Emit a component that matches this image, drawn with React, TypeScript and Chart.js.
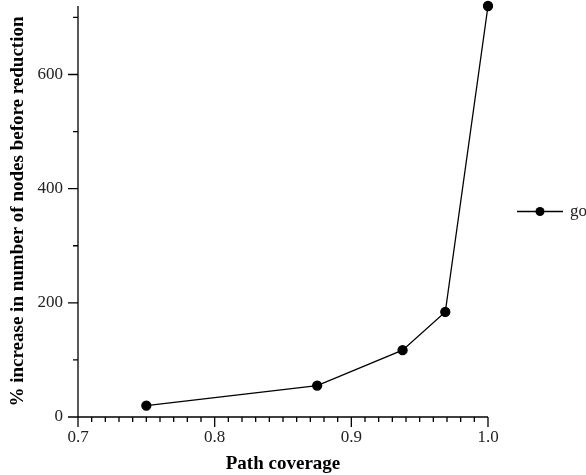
import { useEffect, useRef } from "react";
import { Chart, registerables } from "chart.js";

Chart.register(...registerables);

// ---- data ----
const coverage = [0.75, 0.875, 0.9375, 0.96875, 1.0];
const increase = [20, 55, 117, 184, 720];
const seriesLabel = "go";
const xTitle = "Path coverage";
const yTitle = "% increase in number of nodes before reduction";
const xMajorTicks = [0.7, 0.8, 0.9, 1.0];
const yMajorTicks = [0, 200, 400, 600];
const yMinorTicks = [100, 300, 500, 700];
const xMinorStep = 0.01;
const xRange = [0.7, 1.0];
const yRange = [0, 720];

const FONT = "'Liberation Serif', 'Times New Roman', serif";

const axesPlugin = {
  id: "axesPlugin",
  beforeDatasetsDraw(chart: any) {
    const { ctx, scales } = chart;
    const xs = scales.x;
    const ys = scales.y;
    const x0 = xs.getPixelForValue(xRange[0]);
    const x1 = xs.getPixelForValue(xRange[1]);
    const y0 = ys.getPixelForValue(yRange[0]);
    const y1 = ys.getPixelForValue(yRange[1]);
    const major = 10;
    const minor = 5;
    ctx.save();
    ctx.strokeStyle = "#000";
    ctx.lineWidth = 1.3;
    ctx.beginPath();
    ctx.moveTo(x0, y1);
    ctx.lineTo(x0, y0);
    ctx.moveTo(x0, y0);
    ctx.lineTo(x1, y0);
    yMajorTicks.forEach((v) => {
      const p = ys.getPixelForValue(v);
      ctx.moveTo(x0, p);
      ctx.lineTo(x0 - major, p);
    });
    yMinorTicks.forEach((v) => {
      const p = ys.getPixelForValue(v);
      ctx.moveTo(x0, p);
      ctx.lineTo(x0 - minor, p);
    });
    xMajorTicks.forEach((v) => {
      const p = xs.getPixelForValue(v);
      ctx.moveTo(p, y0);
      ctx.lineTo(p, y0 + major);
    });
    const n = Math.round((xRange[1] - xRange[0]) / xMinorStep);
    for (let i = 1; i < n; i++) {
      if (i % 10 === 0) continue;
      const p = xs.getPixelForValue(xRange[0] + i * xMinorStep);
      ctx.moveTo(p, y0);
      ctx.lineTo(p, y0 + minor);
    }
    ctx.stroke();
    ctx.restore();
  },
  afterDraw(chart: any) {
    const { ctx, chartArea } = chart;
    const ds = chart.data.datasets[0];
    const ly = (chartArea.top + chartArea.bottom) / 2;
    const lx = chartArea.right + 29;
    ctx.save();
    ctx.strokeStyle = "#000";
    ctx.lineWidth = 1.3;
    ctx.beginPath();
    ctx.moveTo(lx, ly);
    ctx.lineTo(lx + 46, ly);
    ctx.stroke();
    ctx.fillStyle = "#000";
    ctx.beginPath();
    ctx.arc(lx + 23, ly, 4.5, 0, Math.PI * 2);
    ctx.fill();
    ctx.font = `17px ${FONT}`;
    ctx.textBaseline = "middle";
    ctx.textAlign = "left";
    ctx.fillStyle = "#222";
    ctx.fillText(ds.label, lx + 53, ly);
    ctx.restore();
  },
};

export default function App() {
  const ref = useRef<HTMLCanvasElement>(null);
  useEffect(() => {
    if (!ref.current) return;
    const chart = new Chart(ref.current, {
      type: "scatter",
      data: {
        datasets: [
          {
            label: seriesLabel,
            data: coverage.map((x, i) => ({ x, y: increase[i] })),
            showLine: true,
            borderColor: "#000",
            backgroundColor: "#000",
            borderWidth: 1.3,
            pointRadius: 4.5,
            pointHoverRadius: 4.5,
            pointBackgroundColor: "#000",
            pointBorderColor: "#000",
            tension: 0,
            clip: false,
          },
        ],
      },
      options: {
        responsive: false,
        animation: false,
        events: [],
        layout: { padding: { top: 6, right: 98, left: 0, bottom: 0 } },
        plugins: {
          legend: { display: false },
          tooltip: { enabled: false },
        },
        scales: {
          x: {
            type: "linear",
            min: xRange[0],
            max: xRange[1],
            afterBuildTicks: (s: any) => {
              s.ticks = xMajorTicks.map((v) => ({ value: v }));
            },
            afterFit: (s: any) => {
              s.height = 58;
              s.paddingLeft = 0;
              s.paddingRight = 0;
            },
            grid: { display: false, drawTicks: false },
            border: { display: false },
            ticks: {
              padding: 10,
              color: "#222",
              font: { family: FONT, size: 17 },
              maxRotation: 0,
              callback: (v: any) => Number(v).toFixed(1),
            },
            title: {
              display: true,
              text: xTitle,
              color: "#000",
              font: { family: FONT, size: 19, weight: "bold" },
              padding: { top: 0, bottom: 0 },
            },
          },
          y: {
            type: "linear",
            min: yRange[0],
            max: yRange[1],
            afterBuildTicks: (s: any) => {
              s.ticks = yMajorTicks.map((v) => ({ value: v }));
            },
            afterFit: (s: any) => {
              s.width = 78;
              s.paddingTop = 0;
              s.paddingBottom = 0;
            },
            grid: { display: false, drawTicks: false },
            border: { display: false },
            ticks: {
              padding: 15,
              color: "#222",
              font: { family: FONT, size: 17 },
              callback: (v: any) => String(v),
            },
            title: {
              display: true,
              text: yTitle,
              color: "#000",
              font: { family: FONT, size: 19, weight: "bold" },
              padding: { top: 7, bottom: 0 },
            },
          },
        },
      },
      plugins: [axesPlugin],
    });
    return () => chart.destroy();
  }, []);
  return (
    <canvas
      ref={ref}
      width={586}
      height={475}
      style={{ position: "absolute", left: 0, top: 0, display: "block" }}
    />
  );
}
